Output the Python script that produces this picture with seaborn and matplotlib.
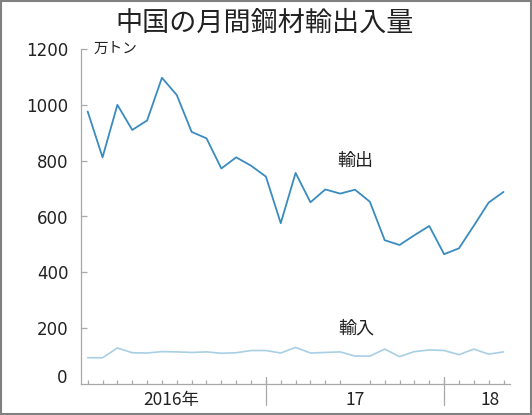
import numpy as np
import pandas as pd
import matplotlib
matplotlib.use("Agg")
import matplotlib.pyplot as plt
import seaborn as sns
from matplotlib.patches import Rectangle

# 2016年1月〜2018年5月 (万トン)
months = list(range(29))
exports = [976, 812, 1000, 910, 944, 1097, 1035, 903, 880, 772, 812, 782,
           743, 576, 756, 651, 697, 682, 696, 653, 515, 498, 533, 566,
           465, 486, 567, 650, 688]
imports = [94, 94, 129, 112, 111, 116, 115, 113, 115, 110, 112, 120,
           120, 111, 131, 111, 113, 115, 100, 100, 125, 98, 116, 122,
           120, 105, 125, 107, 115]
year_starts = [12, 24]
year_label_pos = [5.6, 18.0, 27.1]
year_labels = ["2016年", "17", "18"]
y_ticks = [200, 400, 600, 800, 1000, 1200]

sns.set_style("white")
plt.rcParams['font.family'] = ['Noto Sans CJK JP', 'DejaVu Sans']

df = pd.DataFrame({"month": months, "輸出": exports, "輸入": imports})

fig = plt.figure(figsize=(5.32, 4.15), dpi=100)
ax = fig.add_axes([81 / 532, 1 - 384 / 415, (510.5 - 81) / 532, (384 - 49) / 415])

sns.lineplot(data=df, x="month", y="輸出", ax=ax, color="#3a8bbf", linewidth=1.3)
sns.lineplot(data=df, x="month", y="輸入", ax=ax, color="#a8cfe4", linewidth=1.2)

ax.set_xlim(-0.45, 28.47)
ax.set_ylim(0, 1200)
ax.set_xlabel("")
ax.set_ylabel("")

grey = "#a8a8a8"
for s in ["top", "right"]:
    ax.spines[s].set_visible(False)
for s in ["left", "bottom"]:
    ax.spines[s].set_color(grey)
    ax.spines[s].set_linewidth(0.9)

# y axis
ax.set_yticks(y_ticks)
ax.set_yticklabels([str(v) for v in y_ticks], family="DejaVu Sans", fontsize=12, color="#222222")
ax.tick_params(axis="y", direction="in", length=4, width=0.9, color=grey, pad=9, left=True)
ax.annotate("0", xy=(0, 0), xycoords=("axes fraction", "data"), xytext=(-9.5, 4),
            textcoords="offset points", ha="right", va="center",
            family="DejaVu Sans", fontsize=12, color="#222222")

# x axis
ax.set_xticks(year_label_pos)
ax.set_xticklabels(year_labels, fontsize=12.5, color="#222222")
ax.tick_params(axis="x", which="major", length=0, pad=5, bottom=True)
ax.set_xticks(months, minor=True)
ax.tick_params(axis="x", which="minor", direction="in", length=3, width=0.9, color=grey, bottom=True)
for ys in year_starts:
    ax.axvline(ys, ymin=-21 / 335, ymax=7 / 335, color=grey, linewidth=0.9, clip_on=False)

# labels
ax.text(18, 800, "輸出", ha="center", va="center", fontsize=13, color="#222222")
ax.text(18.1, 200, "輸入", ha="center", va="center", fontsize=13, color="#222222")
ax.annotate("万トン", xy=(0, 1200), xycoords=("axes fraction", "data"), xytext=(9, 0),
            textcoords="offset points", ha="left", va="center", fontsize=10.5, color="#222222")

fig.text(0.498, 1 - 23 / 415, "中国の月間鋼材輸出入量", ha="center", va="center",
         fontsize=19.5, color="#222222")

fig.add_artist(Rectangle((0.002, 0.002), 0.996, 0.996, transform=fig.transFigure,
                         fill=False, edgecolor="#808080", linewidth=1.5))

fig.savefig("out.png", dpi=100)
